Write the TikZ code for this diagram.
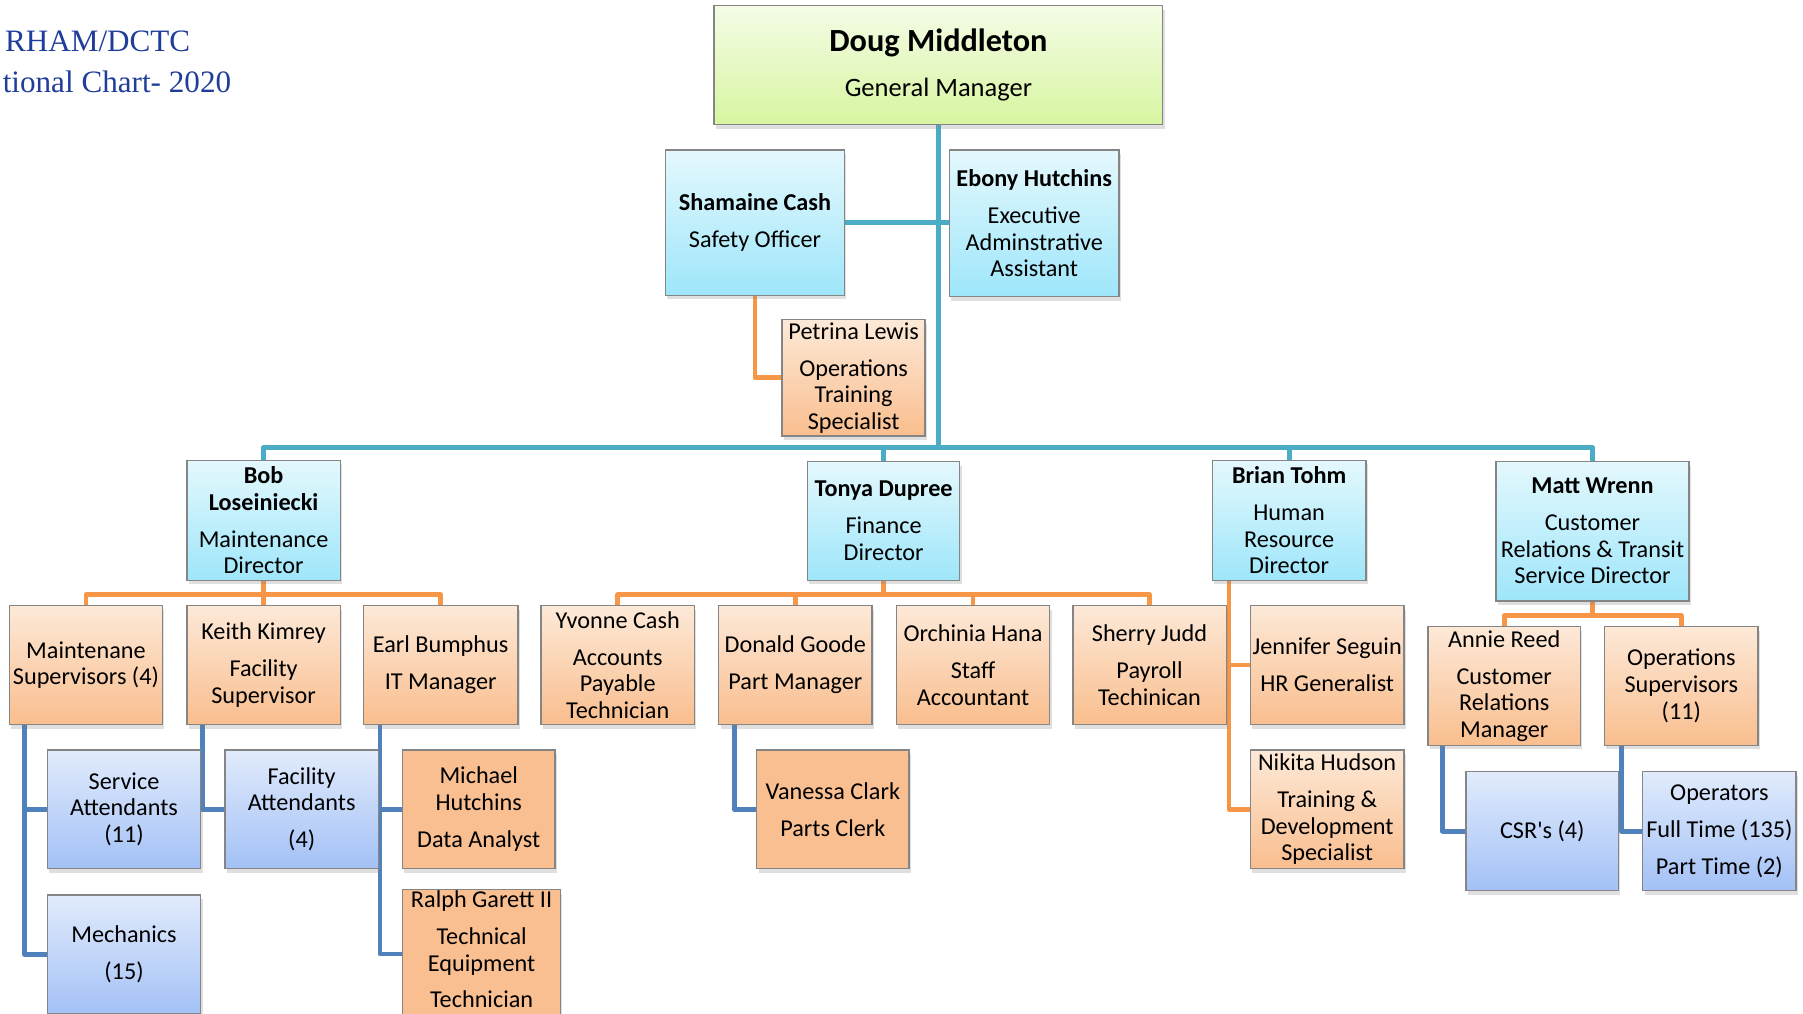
\documentclass[tikz,border=0pt]{standalone}
\usepackage{fontspec}
\setmainfont{Carlito}
\newfontfamily\titlefont{Liberation Serif}
\usetikzlibrary{shadows,calc}
\pgfdeclarelayer{bg}
\pgfsetlayers{bg,main}
\definecolor{cTeal}{HTML}{4BACC6}
\definecolor{cOrange}{HTML}{F79646}
\definecolor{cBlue}{HTML}{4F81BD}
\definecolor{cBorder}{HTML}{858585}
\definecolor{cTitle}{HTML}{1F3D99}
\definecolor{gTop}{HTML}{F4FCE6}
\definecolor{gBot}{HTML}{D7F5A0}
\definecolor{cyTop}{HTML}{E4F8FD}
\definecolor{cyBot}{HTML}{9EE6FA}
\definecolor{orTop}{HTML}{FDE9D8}
\definecolor{orBot}{HTML}{F9BE8E}
\definecolor{orFlat}{HTML}{F9BF91}
\definecolor{blTop}{HTML}{E1EBFC}
\definecolor{blBot}{HTML}{A3C1F6}
\tikzset{
  orgbase/.style={draw=cBorder, line width=0.6pt, inner sep=0.5pt, align=center,
    font=\fontsize{10.5}{11.5}\selectfont,
    drop shadow={shadow xshift=0.8pt, shadow yshift=-1.8pt, opacity=0.25}},
  gbox/.style={orgbase, top color=gTop, bottom color=gBot},
  cbox/.style={orgbase, top color=cyTop, bottom color=cyBot},
  obox/.style={orgbase, top color=orTop, bottom color=orBot},
  fbox/.style={orgbase, fill=orFlat},
  bbox/.style={orgbase, top color=blTop, bottom color=blBot},
  tline/.style={draw=cTeal, line width=2.1pt, line join=round},
  oline/.style={draw=cOrange, line width=2.1pt, line join=round},
  bline/.style={draw=cBlue, line width=2.1pt, line join=round},
  titletext/.style={anchor=base west, inner sep=0, text=cTitle, font=\titlefont\fontsize{13.5}{16}\selectfont},
}
\newcommand\orgbox[7]{\node[#1, minimum width={(#5-#3)*0.5pt}, minimum height={(#6-#4)*0.5pt}] (#2) at ({(#3+#5)/2},{(#4+#6)/2}) {#7};}
\begin{document}
\begin{tikzpicture}[x=0.5pt, y=-0.5pt]
\useasboundingbox (0,0) rectangle (1563,878.2);
% title
\node[titletext] (t1) at (4,45) {RHAM/DCTC};
\node[titletext] (t2) at (2,80) {tional Chart- 2020};
% boxes
\orgbox{gbox}{doug}{619}{5}{1008}{108}{{\fontsize{14}{16}\selectfont\textbf{Doug Middleton}}\\[8pt]{\fontsize{11.5}{13}\selectfont General Manager}}
\orgbox{cbox}{sham}{577}{130}{732}{256}{\textbf{Shamaine Cash}\\[4.5pt]Safety Officer}
\orgbox{cbox}{ebony}{823}{130}{970}{257}{\textbf{Ebony Hutchins}\\[4.5pt]Executive\\Adminstrative\\Assistant}
\orgbox{obox}{petrina}{678}{277}{802}{378}{Petrina Lewis\\[4.5pt]Operations\\Training\\Specialist}
\orgbox{cbox}{bob}{162}{399}{295}{503}{\textbf{Bob}\\\textbf{Loseiniecki}\\[4.5pt]Maintenance\\Director}
\orgbox{cbox}{tonya}{700}{400}{832}{503}{\textbf{Tonya Dupree}\\[4.5pt]Finance\\Director}
\orgbox{cbox}{brian}{1051}{399}{1184}{503}{\textbf{Brian Tohm}\\[4.5pt]Human\\Resource\\Director}
\orgbox{cbox}{matt}{1297}{400}{1464}{521}{\textbf{Matt Wrenn}\\[4.5pt]Customer\\Relations \& Transit\\Service Director}
\orgbox{obox}{maint}{8}{525}{141}{628}{Maintenane\\Supervisors (4)}
\orgbox{obox}{keith}{162}{525}{295}{628}{Keith Kimrey\\[4.5pt]Facility\\Supervisor}
\orgbox{obox}{earl}{315}{525}{449}{628}{Earl Bumphus\\[4.5pt]IT Manager}
\orgbox{obox}{yvonne}{469}{525}{602}{628}{Yvonne Cash\\[4.5pt]Accounts\\Payable\\Technician}
\orgbox{obox}{donald}{623}{525}{756}{628}{Donald Goode\\[4.5pt]Part Manager}
\orgbox{obox}{orch}{777}{525}{910}{628}{Orchinia Hana\\[4.5pt]Staff\\Accountant}
\orgbox{obox}{sherry}{930}{525}{1063}{628}{Sherry Judd\\[4.5pt]Payroll\\Techinican}
\orgbox{obox}{jenn}{1084}{525}{1217}{628}{Jennifer Seguin\\[4.5pt]HR Generalist}
\orgbox{obox}{nikita}{1084}{650}{1217}{753}{Nikita Hudson\\[4.5pt]Training \&\\Development\\Specialist}
\orgbox{obox}{annie}{1238}{543}{1370}{646}{Annie Reed\\[4.5pt]Customer\\Relations\\Manager}
\orgbox{obox}{opsup}{1391}{543}{1524}{646}{Operations\\Supervisors\\(11)}
\orgbox{bbox}{serv}{41}{650}{174}{753}{Service\\Attendants\\(11)}
\orgbox{bbox}{mech}{41}{776}{174}{879}{Mechanics\\[4.5pt](15)}
\orgbox{bbox}{facat}{195}{650}{328}{753}{Facility\\Attendants\\[4.5pt](4)}
\orgbox{fbox}{michael}{349}{650}{481}{753}{Michael\\Hutchins\\[4.5pt]Data Analyst}
\orgbox{fbox}{ralph}{349}{775}{486}{879}{Ralph Garett II\\[4.5pt]Technical\\Equipment\\[4.5pt]Technician\rule[-4pt]{0pt}{4pt}}
\orgbox{fbox}{vanessa}{656}{650}{788}{753}{Vanessa Clark\\[4.5pt]Parts Clerk}
\orgbox{bbox}{csr}{1271}{669}{1403}{772}{CSR\textquotesingle s (4)}
\orgbox{bbox}{oper}{1424}{669}{1557}{772}{Operators\\[4.5pt]Full Time (135)\\[4.5pt]Part Time (2)}
% connectors
\begin{pgfonlayer}{bg}
\coordinate (hub) at (813.5,388);
\draw[tline] (doug.south) -- (doug.south |- hub);
\draw[tline] (sham.east) -- (sham.east -| ebony.west);
\draw[tline] (bob.north) |- (hub) -| (matt.north);
\draw[tline] (tonya.north) -- (tonya.north |- hub);
\draw[tline] (brian.north) -- (brian.north |- hub);
\draw[oline] (sham.south) |- (petrina.west);
\coordinate (bb) at ($(bob.south)+(0,12)$);
\draw[oline] (maint.north) |- (bb) -| (earl.north);
\draw[oline] (bob.south) -- (keith.north);
\coordinate (tb) at ($(tonya.south)+(0,12)$);
\draw[oline] (yvonne.north) |- (tb) -| (sherry.north);
\draw[oline] (tonya.south) -- (tb);
\draw[oline] (donald.north) -- (donald.north |- tb);
\draw[oline] (orch.north) -- (orch.north |- tb);
\coordinate (bl) at ($(brian.south west)+(15,0)$);
\draw[oline] (bl) |- (nikita.west);
\draw[oline] (jenn.west) -- (jenn.west -| bl);
\coordinate (mb) at ($(matt.south)+(0,12)$);
\draw[oline] (annie.north) |- (mb) -| (opsup.north);
\draw[oline] (matt.south) -- (mb);
\coordinate (ml) at ($(maint.south west)+(14,0)$);
\draw[bline] (ml) |- (mech.west);
\draw[bline] (serv.west) -- (serv.west -| ml);
\coordinate (kl) at ($(keith.south west)+(14,0)$);
\draw[bline] (kl) |- (facat.west);
\coordinate (el) at ($(earl.south west)+(15,0)$);
\draw[bline] (el) |- (ralph.west);
\draw[bline] (michael.west) -- (michael.west -| el);
\coordinate (dl) at ($(donald.south west)+(14,0)$);
\draw[bline] (dl) |- (vanessa.west);
\coordinate (al) at ($(annie.south west)+(13,0)$);
\draw[bline] (al) |- (csr.west);
\coordinate (ol) at ($(opsup.south west)+(15,0)$);
\draw[bline] (ol) |- (oper.west);
\end{pgfonlayer}
\end{tikzpicture}
\end{document}
